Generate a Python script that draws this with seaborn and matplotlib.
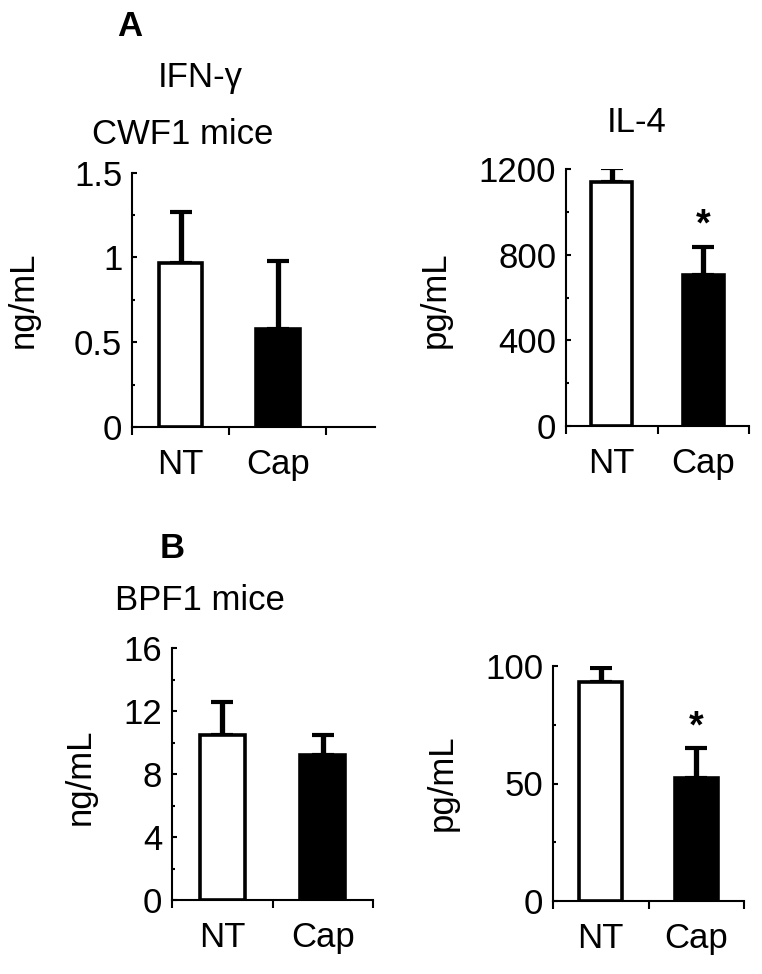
import matplotlib
matplotlib.use("Agg")
import matplotlib.pyplot as plt
from matplotlib.ticker import MultipleLocator
import seaborn as sns

sns.set_style("ticks")
plt.rcParams['font.family'] = ['Liberation Sans', 'DejaVu Sans']
plt.rcParams['text.color'] = 'black'
plt.rcParams['xtick.color'] = 'black'
plt.rcParams['ytick.color'] = 'black'
plt.rcParams['axes.edgecolor'] = 'black'

# Données
groupes = ["NT", "Cap"]
ifn_cwf1 = [0.965, 0.58]
ifn_cwf1_err = [0.30, 0.40]
il4_cwf1 = [1138, 705]
il4_cwf1_err = [68, 132]
ifn_bpf1 = [10.5, 9.2]
ifn_bpf1_err = [2.05, 1.3]
il4_bpf1 = [93.3, 52.2]
il4_bpf1_err = [5.7, 12.8]
signif_ifn = [False, False]
signif_il4 = [False, True]

W, H = 762, 974
fig = plt.figure(figsize=(W / 100, H / 100), dpi=100)
FS = 25


def px_axes(x0, x1, y0, y1):
    return fig.add_axes([x0 / W, 1 - y1 / H, (x1 - x0) / W, (y1 - y0) / H])


def panneau(ax, vals, errs, signif, ymax, major, minor, yticklabels, xmax):
    sns.barplot(x=groupes, y=vals, hue=groupes, palette=["white", "black"],
                edgecolor="black", linewidth=2.6, width=0.45, legend=False,
                ax=ax, zorder=3)
    ax.errorbar(x=[0, 1], y=vals, yerr=[[0, 0], errs], fmt="none",
                ecolor="black", elinewidth=3.8, capsize=8, capthick=3,
                zorder=2)
    for i, s in enumerate(signif):
        if s:
            ax.annotate("*", xy=(i, vals[i] + errs[i]), xytext=(0, 2),
                        textcoords="offset points", ha="center", va="bottom",
                        fontsize=27, fontweight="bold")
    ax.set_xlim(-0.5, xmax)
    ax.set_ylim(0, ymax)
    ax.set_yticks(major)
    ax.set_yticklabels(yticklabels)
    ax.yaxis.set_minor_locator(MultipleLocator(minor))
    ax.set_xticks([0, 1])
    ax.set_xticklabels(groupes)
    ax.set_xticks([-0.5, 0.5, 1.5], minor=True)
    ax.tick_params(axis="x", which="major", length=0, pad=15, labelsize=FS)
    ax.tick_params(axis="x", which="minor", length=6, width=1.5,
                   direction="out")
    ax.tick_params(axis="y", which="major", length=3.8, width=1.5,
                   direction="in", pad=7, labelsize=FS)
    ax.tick_params(axis="y", which="minor", length=2.5, width=1.5,
                   direction="in")
    for sp in ["top", "right"]:
        ax.spines[sp].set_visible(False)
    for sp in ["left", "bottom"]:
        ax.spines[sp].set_linewidth(1.5)
    ax.set_xlabel("")
    ax.set_ylabel("")


ax1 = px_axes(132, 375, 172.5, 427)
panneau(ax1, ifn_cwf1, ifn_cwf1_err, signif_ifn, 1.5, [0, 0.5, 1, 1.5], 0.25,
        ["0", "0.5", "1", "1.5"], 2.0)
ax2 = px_axes(566, 749, 169, 426)
panneau(ax2, il4_cwf1, il4_cwf1_err, signif_il4, 1200, [0, 400, 800, 1200],
        200, ["0", "400", "800", "1200"], 1.5)
ax3 = px_axes(172, 373, 648, 900)
panneau(ax3, ifn_bpf1, ifn_bpf1_err, signif_ifn, 16, [0, 4, 8, 12, 16], 2,
        ["0", "4", "8", "12", "16"], 1.5)
ax4 = px_axes(553, 744, 666, 901)
panneau(ax4, il4_bpf1, il4_bpf1_err, signif_il4, 100, [0, 50, 100], 25,
        ["0", "50", "100"], 1.5)


def txt(x, y, s, **kw):
    fig.text(x / W, 1 - y / H, s, ha="center", va="center", **kw)


txt(130, 27, "A", fontsize=FS, fontweight="bold")
txt(172, 548, "B", fontsize=FS, fontweight="bold")
txt(200, 77, "IFN-γ", fontsize=FS)
txt(183, 135, "CWF1 mice", fontsize=FS)
txt(637, 123, "IL-4", fontsize=FS)
txt(200, 600, "BPF1 mice", fontsize=FS)
txt(23, 300, "ng/mL", fontsize=FS, rotation=90)
txt(435, 300, "pg/mL", fontsize=FS, rotation=90)
txt(80, 777, "ng/mL", fontsize=FS, rotation=90)
txt(442, 783, "pg/mL", fontsize=FS, rotation=90)

fig.savefig("out.png", dpi=100)
